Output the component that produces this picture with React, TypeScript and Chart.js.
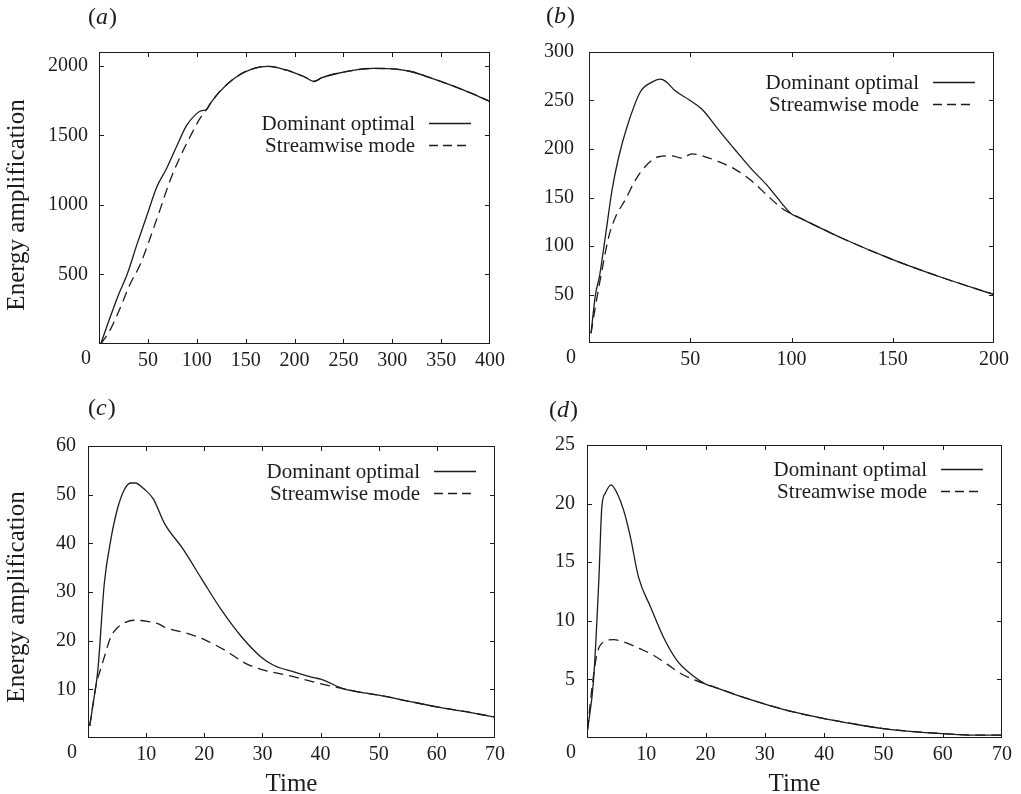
import React, { useEffect, useRef } from 'react';
import { Chart, registerables } from 'chart.js';

Chart.register(...registerables);

// ---------------- DATA ----------------
// Panel (a)
const timeA_dom = [2, 9, 19, 29, 39, 49, 59, 69, 79, 89.5, 99.6, 105, 110];
const ampA_dom = [5, 145, 337, 505, 720, 924, 1128, 1260, 1415, 1571, 1655, 1678, 1686];
const timeA_str = [2, 12, 22, 32, 42.5, 52.6, 62.7, 72.7, 82.8, 92.9, 103, 110];
const ampA_str = [0, 109, 265, 433, 577, 768, 972, 1176, 1343, 1487, 1619, 1686];
const timeA_shared = [114, 123, 140, 157, 173, 193, 200, 210, 220, 228, 240, 260, 280, 300, 320, 340, 360, 380, 400];
const ampA_shared = [1730, 1811, 1919, 1979, 1996, 1967, 1950, 1922, 1888, 1915, 1940, 1968, 1982, 1979, 1958, 1912, 1862, 1806, 1744];
const xTicksA = [0, 50, 100, 150, 200, 250, 300, 350, 400];
const yTicksA = [0, 500, 1000, 1500, 2000];

// Panel (b)
const timeB_dom = [1, 3.2, 5.2, 8.1, 11.4, 14.7, 18.8, 25.4, 31.1, 35.2, 37.7, 42.6, 49.2, 55.8, 63.9, 72.2, 80.4, 88.6, 95.2, 100];
const ampB_dom = [10, 50, 69, 110, 158, 192, 223, 259, 269, 272, 270, 260, 251, 241, 220, 199, 179, 161, 144, 133];
const timeB_str = [1, 3.2, 6.5, 9.8, 13.1, 18, 22.9, 27.8, 34.4, 41, 45.9, 50.8, 57.4, 63.9, 72.2, 80.4, 88.6, 95.2, 100];
const ampB_str = [10, 38, 76, 110, 130, 148, 168, 182, 192, 193, 190.5, 195, 192, 187, 179, 167, 151, 139, 133];
const timeB_shared = [103, 125, 150, 175, 200];
const ampB_shared = [130, 108, 86, 67, 50];
const xTicksB = [0, 50, 100, 150, 200];
const yTicksB = [0, 50, 100, 150, 200, 250, 300];

// Panel (c)
const timeC_dom = [0.3, 1, 1.7, 2.8, 3.9, 5, 6.2, 7.3, 8.1, 9.8, 11.2, 13.2, 16.3, 19.7, 23, 26.4, 29.8, 32, 35.4, 38.8, 40, 44];
const ampC_dom = [2.5, 8, 14, 31.7, 40.6, 46.8, 50.9, 52.4, 52.4, 51, 49.2, 44, 38.9, 32.4, 26.2, 20.8, 16.6, 14.9, 13.6, 12.4, 12.1, 10.1];
const timeC_str = [0.3, 1, 1.5, 2, 2.8, 3.9, 5, 6, 7.9, 10, 12, 13.5, 16.8, 20.2, 23.6, 27, 30.4, 34.3, 39.9, 44];
const ampC_str = [2.5, 8, 11.5, 13.5, 16.6, 20.7, 22.6, 23.5, 24.2, 24, 23.5, 22.6, 21.6, 20.1, 18, 15.4, 13.9, 12.9, 11.2, 10.1];
const timeC_shared = [46, 50, 55, 60, 65, 70];
const ampC_shared = [9.6, 8.8, 7.6, 6.4, 5.4, 4.3];
const xTicksC = [0, 10, 20, 30, 40, 50, 60, 70];
const yTicksC = [0, 10, 20, 30, 40, 50, 60];

// Panel (d)
const timeD_dom = [0.1, 1.1, 2, 2.5, 3.1, 4.05, 5.06, 6.2, 7.3, 8.7, 10.7, 12.9, 15.2, 17.4, 20];
const ampD_dom = [0.7, 4.9, 13.5, 19.7, 20.9, 21.6, 20.9, 19.4, 17.2, 13.7, 11.2, 8.6, 6.6, 5.5, 4.6];
const timeD_str = [0.1, 0.85, 1.7, 2.8, 4.5, 6.2, 9, 11.2, 13.5, 15.8, 18, 20];
const ampD_str = [0.7, 4.35, 7.2, 8.2, 8.4, 8.2, 7.6, 7.06, 6.3, 5.5, 4.98, 4.6];
const timeD_shared = [21.5, 25, 30, 35, 40, 45, 50, 55, 60, 65, 70];
const ampD_shared = [4.35, 3.7, 2.9, 2.2, 1.66, 1.2, 0.8, 0.55, 0.38, 0.25, 0.25];
const xTicksD = [0, 10, 20, 30, 40, 50, 60, 70];
const yTicksD = [0, 5, 10, 15, 20, 25];

const legendLabels = ['Dominant optimal', 'Streamwise mode'];
const xTitle = 'Time';
const yTitle = 'Energy amplification';

// ---------------- STYLE / LAYOUT ----------------
const FONT = "'Liberation Serif', 'Times New Roman', serif";
const INK = '#1c1c1c';
const DASH = [10, 6];

type Panel = {
  letter: string;
  cx: number; cy: number; w: number; h: number; // canvas rect on page
  L: number; T: number; R: number; B: number;   // chart area in canvas coords
  xMax: number; yMax: number;
  xTicks: number[]; yTicks: number[];
  dom: [number[], number[]]; str: [number[], number[]]; shared: [number[], number[]];
  yPad: number;
  zeroX: number;
  letterX: number; letterY: number;
  legendY: number;
  showYTitle: boolean; yTitleY: number;
  showXTitle: boolean;
};

const panels: Panel[] = [
  {
    letter: 'a', cx: 0, cy: 0, w: 510, h: 372, L: 99, T: 52, R: 496, B: 344,
    xMax: 400, yMax: 2100, xTicks: xTicksA, yTicks: yTicksA,
    dom: [timeA_dom, ampA_dom], str: [timeA_str, ampA_str], shared: [timeA_shared, ampA_shared],
    yPad: 11, zeroX: 91, letterX: 88, letterY: 18, legendY: 71,
    showYTitle: true, yTitleY: 205, showXTitle: false,
  },
  {
    letter: 'b', cx: 510, cy: 0, w: 511, h: 372, L: 79, T: 52, R: 484, B: 343,
    xMax: 200, yMax: 300, xTicks: xTicksB, yTicks: yTicksB,
    dom: [timeB_dom, ampB_dom], str: [timeB_str, ampB_str], shared: [timeB_shared, ampB_shared],
    yPad: 15, zeroX: 66, letterX: 36, letterY: 17, legendY: 30,
    showYTitle: false, yTitleY: 0, showXTitle: false,
  },
  {
    letter: 'c', cx: 0, cy: 372, w: 510, h: 422, L: 88, T: 74, R: 503, B: 366,
    xMax: 70, yMax: 60, xTicks: xTicksC, yTicks: yTicksC,
    dom: [timeC_dom, ampC_dom], str: [timeC_str, ampC_str], shared: [timeC_shared, ampC_shared],
    yPad: 12, zeroX: 77, letterX: 88, letterY: 37, legendY: 25,
    showYTitle: true, yTitleY: 225, showXTitle: true,
  },
  {
    letter: 'd', cx: 510, cy: 372, w: 511, h: 422, L: 77, T: 73, R: 492, B: 366,
    xMax: 70, yMax: 25, xTicks: xTicksD, yTicks: yTicksD,
    dom: [timeD_dom, ampD_dom], str: [timeD_str, ampD_str], shared: [timeD_shared, ampD_shared],
    yPad: 12, zeroX: 66, letterX: 39, letterY: 39, legendY: 24,
    showYTitle: false, yTitleY: 0, showXTitle: true,
  },
];

const toPoints = (xs: number[], ys: number[]) => xs.map((x, i) => ({ x, y: ys[i] }));

function decorPlugin(p: Panel) {
  return {
    id: 'decor_' + p.letter,
    afterDraw(chart: any) {
      const ctx: CanvasRenderingContext2D = chart.ctx;
      const { left, right, top, bottom } = chart.chartArea;
      ctx.save();
      ctx.strokeStyle = INK;
      ctx.fillStyle = INK;
      ctx.lineWidth = 1;
      // frame
      ctx.strokeRect(left + 0.5, top + 0.5, right - left - 1, bottom - top - 1);
      // inward ticks, mirrored
      const tl = 5;
      const xs = chart.scales.x;
      xs.ticks.forEach((t: any) => {
        const px = Math.round(xs.getPixelForValue(t.value)) + 0.5;
        if (px <= left + 1 || px >= right - 1) return;
        ctx.beginPath();
        ctx.moveTo(px, bottom); ctx.lineTo(px, bottom - tl);
        ctx.moveTo(px, top); ctx.lineTo(px, top + tl);
        ctx.stroke();
      });
      const ys = chart.scales.y;
      ys.ticks.forEach((t: any) => {
        const py = Math.round(ys.getPixelForValue(t.value)) + 0.5;
        if (py <= top + 1 || py >= bottom - 1) return;
        ctx.beginPath();
        ctx.moveTo(left, py); ctx.lineTo(left + tl, py);
        ctx.moveTo(right, py); ctx.lineTo(right - tl, py);
        ctx.stroke();
      });
      // legend
      ctx.font = `21px ${FONT}`;
      ctx.textAlign = 'right';
      ctx.textBaseline = 'middle';
      legendLabels.forEach((lab, i) => {
        const y = top + p.legendY + i * 22;
        ctx.fillText(lab, right - 75, y + 1);
        ctx.beginPath();
        ctx.lineWidth = 1.3;
        ctx.setLineDash(i === 0 ? [] : [9, 5]);
        ctx.moveTo(right - 61, y + 0.5);
        ctx.lineTo(right - 19, y + 0.5);
        ctx.stroke();
        ctx.setLineDash([]);
      });
      // corner zero
      ctx.font = `20px ${FONT}`;
      ctx.textAlign = 'right';
      ctx.textBaseline = 'top';
      ctx.fillText('0', p.zeroX, bottom + 5);
      // panel letter
      ctx.textBaseline = 'middle';
      ctx.textAlign = 'left';
      ctx.font = `24px ${FONT}`;
      let x = p.letterX;
      ctx.fillText('(', x, p.letterY);
      x += ctx.measureText('(').width;
      ctx.font = `italic 24px ${FONT}`;
      ctx.fillText(p.letter, x, p.letterY);
      x += ctx.measureText(p.letter).width + 1;
      ctx.font = `24px ${FONT}`;
      ctx.fillText(')', x, p.letterY);
      // axis titles
      ctx.font = `25px ${FONT}`;
      if (p.showYTitle) {
        ctx.save();
        ctx.translate(17, p.yTitleY);
        ctx.rotate(-Math.PI / 2);
        ctx.textAlign = 'center';
        ctx.textBaseline = 'middle';
        ctx.fillText(yTitle, 0, 0);
        ctx.restore();
      }
      if (p.showXTitle) {
        ctx.textAlign = 'center';
        ctx.textBaseline = 'alphabetic';
        ctx.fillText(xTitle, (left + right) / 2, p.h - 3);
      }
      ctx.restore();
    },
  };
}

function PanelChart({ p }: { p: Panel }) {
  const ref = useRef<HTMLCanvasElement | null>(null);
  useEffect(() => {
    if (!ref.current) return;
    const domPts = toPoints(p.dom[0], p.dom[1]).concat(toPoints(p.shared[0], p.shared[1]));
    const strPts = toPoints(p.str[0], p.str[1]).concat(toPoints(p.shared[0], p.shared[1]));
    const tickFont = { family: FONT, size: 20 };
    const chart = new Chart(ref.current, {
      type: 'line',
      data: {
        datasets: [
          {
            label: legendLabels[0], data: domPts, borderColor: INK, borderWidth: 1.3,
            pointRadius: 0, fill: false, cubicInterpolationMode: 'monotone',
          },
          {
            label: legendLabels[1], data: strPts, borderColor: INK, borderWidth: 1.3,
            pointRadius: 0, fill: false, cubicInterpolationMode: 'monotone', borderDash: DASH,
          },
        ],
      },
      options: {
        animation: false,
        responsive: false,
        maintainAspectRatio: false,
        devicePixelRatio: 1,
        parsing: false,
        layout: { padding: { left: 0, top: p.T, right: p.w - p.R, bottom: 0 } },
        plugins: { legend: { display: false }, title: { display: false }, tooltip: { enabled: false } },
        scales: {
          x: {
            type: 'linear', min: 0, max: p.xMax,
            afterBuildTicks: (s: any) => { s.ticks = p.xTicks.map((v) => ({ value: v })); },
            afterFit: (s: any) => { s.height = p.h - p.B; },
            grid: { display: false, drawTicks: false },
            border: { display: false },
            ticks: {
              font: tickFont, color: INK, padding: 5, maxRotation: 0, autoSkip: false,
              callback: (v: any) => (v === 0 ? '' : String(v)),
            },
          },
          y: {
            type: 'linear', min: 0, max: p.yMax,
            afterBuildTicks: (s: any) => { s.ticks = p.yTicks.map((v) => ({ value: v })); },
            afterFit: (s: any) => { s.width = p.L; },
            grid: { display: false, drawTicks: false },
            border: { display: false },
            ticks: {
              font: tickFont, color: INK, padding: p.yPad, autoSkip: false,
              callback: (v: any) => (v === 0 ? '' : String(v)),
            },
          },
        },
      } as any,
      plugins: [decorPlugin(p)],
    });
    return () => chart.destroy();
  }, [p]);
  return (
    <canvas
      ref={ref}
      width={p.w}
      height={p.h}
      style={{ position: 'absolute', left: p.cx, top: p.cy, width: p.w, height: p.h }}
    />
  );
}

export default function App() {
  return (
    <div style={{ position: 'absolute', left: 0, top: 0, width: 1021, height: 794, background: '#fff', overflow: 'hidden' }}>
      {panels.map((p) => (
        <PanelChart key={p.letter} p={p} />
      ))}
    </div>
  );
}
